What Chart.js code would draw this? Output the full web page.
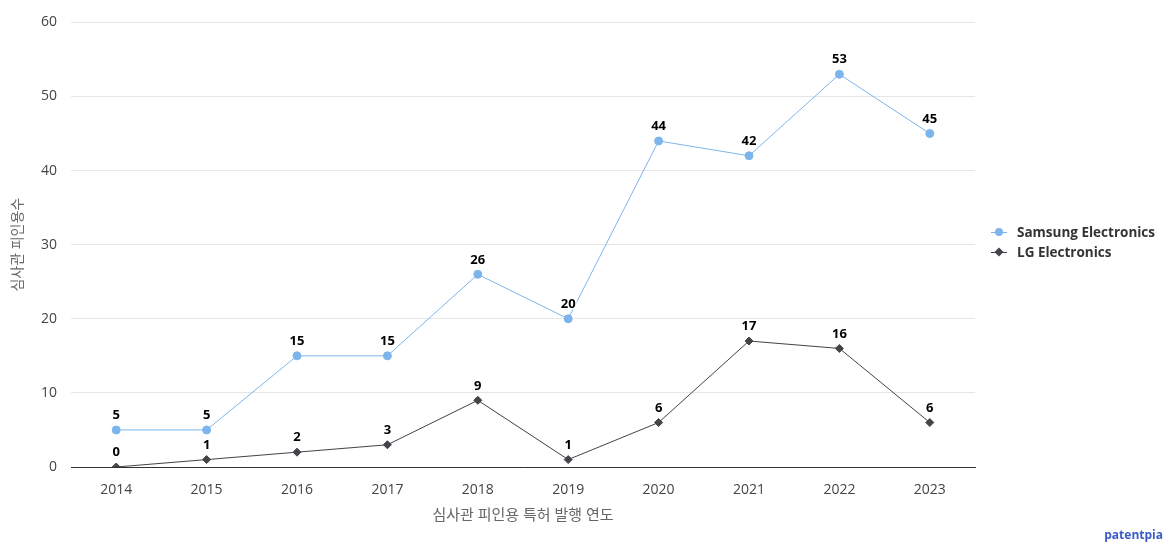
<!DOCTYPE html>
<html>
<head>
<meta charset="utf-8">
<script src="https://cdn.jsdelivr.net/npm/chart.js@4"></script>
<style>
  body { margin: 0; background: #fff; font-family: "Open Sans", "Noto Sans CJK KR", sans-serif; }
  #wrap { position: relative; width: 1174px; height: 550px; }
  #legend { position: absolute; left: 990px; top: 222px; font-size: 13.5px; font-weight: bold; color: #333; }
  .item { height: 20px; line-height: 20px; white-space: nowrap; }
  .sym { display: inline-block; position: relative; width: 18px; height: 20px; vertical-align: top; margin-right: 9px; }
  .sym .ln { position: absolute; left: 1px; right: 1px; top: 10px; height: 1px; }
  .sym .mk { position: absolute; left: 5px; top: 6px; width: 8px; height: 8px; }
  #credit { position: absolute; right: 11px; bottom: 7px; font-size: 12px; font-weight: bold; color: #3b5ac8; }
</style>
</head>
<body>
<div id="wrap">
  <canvas id="chart" width="1174" height="550"></canvas>
  <div id="legend"></div>
  <div id="credit">patentpia</div>
</div>
<script>
const years = ['2014', '2015', '2016', '2017', '2018', '2019', '2020', '2021', '2022', '2023'];
const samsung = [5, 5, 15, 15, 26, 20, 44, 42, 53, 45];
const lg = [0, 1, 2, 3, 9, 1, 6, 17, 16, 6];
const seriesNames = ['Samsung Electronics', 'LG Electronics'];
const seriesColors = ['#7cb5ec', '#434348'];
const yTitle = '심사관 피인용수';
const xTitle = '심사관 피인용 특허 발행 연도';

// 점 위에 값 표시
const valueLabels = {
    id: 'valueLabels',
    afterDatasetsDraw(chart) {
        const ctx = chart.ctx;
        ctx.save();
        ctx.font = 'bold 13px "Open Sans", sans-serif';
        ctx.textAlign = 'center';
        ctx.textBaseline = 'bottom';
        chart.data.datasets.forEach((ds, i) => {
            chart.getDatasetMeta(i).data.forEach((pt, j) => {
                ctx.lineWidth = 3;
                ctx.strokeStyle = '#fff';
                ctx.strokeText(ds.data[j], pt.x, pt.y - 8);
                ctx.fillStyle = '#000';
                ctx.fillText(ds.data[j], pt.x, pt.y - 8);
            });
        });
        ctx.restore();
    }
};

const chart = new Chart(document.getElementById('chart'), {
    type: 'line',
    data: {
        labels: years,
        datasets: [
            {
                label: seriesNames[0],
                data: samsung,
                borderColor: seriesColors[0],
                backgroundColor: seriesColors[0],
                borderWidth: 1,
                pointStyle: 'circle',
                pointRadius: 4,
                pointHoverRadius: 4,
                tension: 0
            },
            {
                label: seriesNames[1],
                data: lg,
                borderColor: seriesColors[1],
                backgroundColor: seriesColors[1],
                borderWidth: 1,
                pointStyle: 'rectRot',
                pointRadius: 4,
                pointHoverRadius: 4,
                tension: 0
            }
        ]
    },
    options: {
        responsive: false,
        animation: false,
        layout: { padding: { top: 15, right: 199, bottom: 21, left: 6 } },
        plugins: {
            legend: { display: false },
            tooltip: { enabled: false }
        },
        scales: {
            x: {
                offset: true,
                grid: { display: false, drawTicks: false },
                border: { color: '#333', width: 1 },
                ticks: { color: '#444', font: { size: 14, family: '"Open Sans", sans-serif' }, padding: 15 },
                title: { display: true, text: xTitle, color: '#666', font: { size: 15, family: '"Open Sans", "Noto Sans CJK KR", sans-serif' }, padding: { top: 4 } },
                afterFit(s) { s.height = 62; }
            },
            y: {
                min: 0,
                max: 60,
                ticks: { stepSize: 10, color: '#444', font: { size: 14, family: '"Open Sans", sans-serif' }, padding: 14 },
                grid: { color: '#e6e6e6', drawTicks: false },
                border: { display: false },
                title: { display: true, text: yTitle, color: '#666', font: { size: 14, family: '"Open Sans", "Noto Sans CJK KR", sans-serif' }, padding: { bottom: 8 } },
                afterFit(s) { s.width = 65; }
            }
        }
    },
    plugins: [valueLabels]
});

// 범례 (HTML)
const legend = document.getElementById('legend');
chart.data.datasets.forEach(ds => {
    const item = document.createElement('div');
    item.className = 'item';
    const diamond = ds.pointStyle === 'rectRot';
    item.innerHTML = '<span class="sym"><span class="ln" style="background:' + ds.borderColor + '"></span>' +
        '<span class="mk" style="background:' + ds.borderColor + ';' +
        (diamond ? 'transform:rotate(45deg) scale(0.8);' : 'border-radius:50%;') + '"></span></span>' + ds.label;
    legend.appendChild(item);
});
</script>
</body>
</html>
